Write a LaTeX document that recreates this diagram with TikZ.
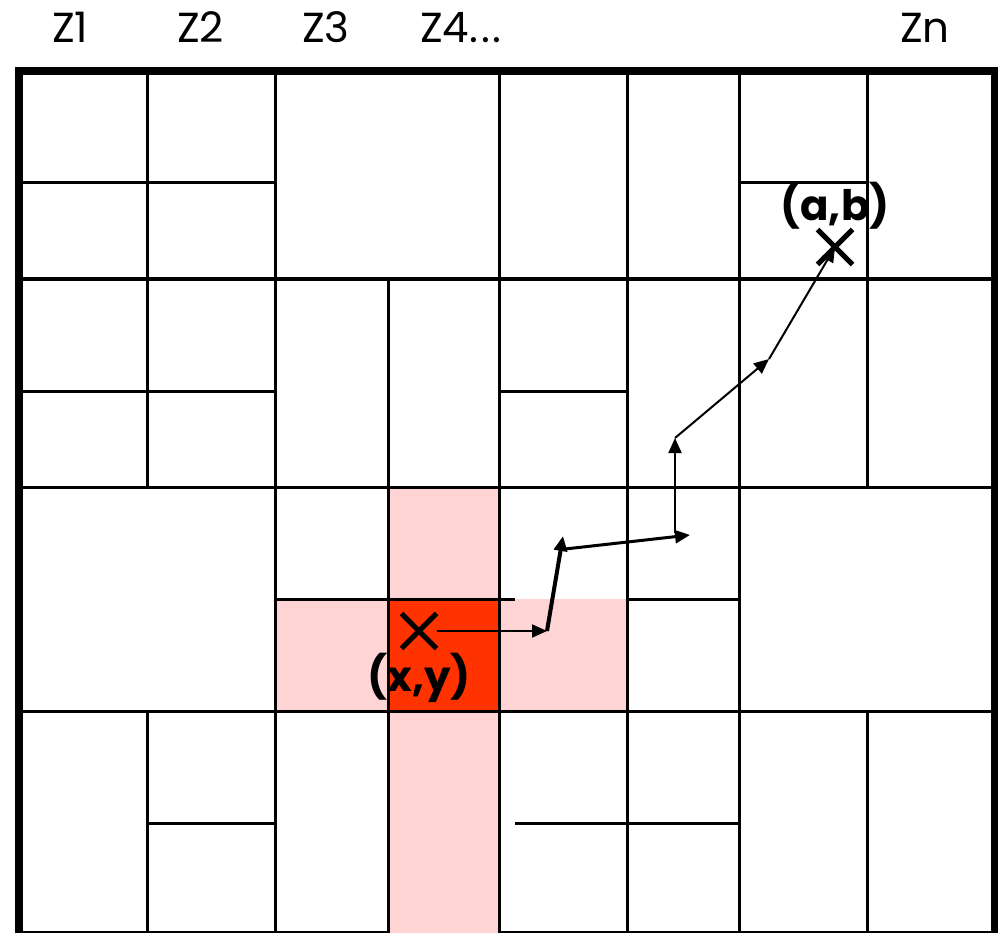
\documentclass[tikz,border=0pt]{standalone}
\usepackage{fontspec}
\setmainfont{Poppins}
\usepackage{xcolor}
\usepackage{tikz}
\usetikzlibrary{arrows.meta,positioning,shapes.misc}
\definecolor{hotcell}{RGB}{255,51,0}
\definecolor{nearcell}{RGB}{255,212,212}
\tikzset{
  >={Triangle[length=15pt,width=13pt]},
  wall/.style={line width=3pt},
  frame/.style={line width=8pt},
  zlabel/.style={inner sep=0pt, anchor=base west, font=\fontsize{42}{50}\selectfont},
  pt/.style={cross out, draw, line width=5pt, minimum size=30pt, inner sep=0pt},
  ptlabel/.style={inner sep=0pt, font=\bfseries\fontsize{42}{50}\selectfont},
  hop/.style={->, line width=2pt},
}

\begin{document}
\begin{tikzpicture}[x=1pt, y=-1pt, node distance=4pt]
  \useasboundingbox (0,0) rectangle (998,933);
  \clip (0,0) rectangle (998,933);

  \fill[nearcell] (388,487) rectangle (499,933);
  \fill[nearcell] (275,599) rectangle (627,711);
  \fill[hotcell] (388,599) rectangle (499,711);

  \draw[wall] (147,71) -- (147,487) (147,711) -- (147,933)
    (275,71) -- (275,933)
    (388,279) -- (388,933)
    (499,71) -- (499,933)
    (627,71) -- (627,933)
    (739,71) -- (739,933)
    (867,71) -- (867,487) (867,711) -- (867,933);
  \draw[wall] (19,183) -- (275,183) (739,183) -- (867,183)
    (19,279) -- (995,279)
    (19,391) -- (275,391) (499,391) -- (627,391)
    (19,487) -- (995,487)
    (275,599) -- (515,599) (627,599) -- (739,599)
    (19,711) -- (995,711)
    (147,823) -- (275,823) (515,823) -- (739,823);
  \draw[frame] (19,939) -- (19,71) -- (995,71) -- (995,939);
  \draw[frame] (15,935) -- (388,935) (499,935) -- (999,935);

  \node[zlabel] (z1) at (52,43) {Z1};
  \node[zlabel] (z2) at (177,43) {Z2};
  \node[zlabel] (z3) at (302,43) {Z3};
  \node[zlabel] (z4) at (420,43) {Z4.\kern3pt.\kern3pt.};
  \node[zlabel] (zn) at (900,43) {Zn};

  \node[pt] (xy) at (419,631) {};
  \node[ptlabel, below=of xy] (xylabel) {(x,y)};
  \node[pt] (ab) at (835,247) {};
  \node[ptlabel, above=0pt of ab] (ablabel) {(a,b)};

  \coordinate (h1) at (547,631);
  \coordinate (h2) at (563,536);
  \coordinate (h2b) at (565,549);
  \coordinate (h3) at (690,535);
  \coordinate (h3b) at (675,533);
  \coordinate (h4) at (675,438);
  \coordinate (h5) at (769,359);

  \draw[hop] (xy.east) -- (h1);
  \draw[hop, line width=4pt] (h1) -- (h2);
  \draw[hop, line width=3pt] (h2b) -- (h3);
  \draw[hop] (h3b) -- (h4);
  \draw[hop] (h4) -- (h5);
  \draw[hop] (h5) -- (ab.center);
\end{tikzpicture}
\end{document}
